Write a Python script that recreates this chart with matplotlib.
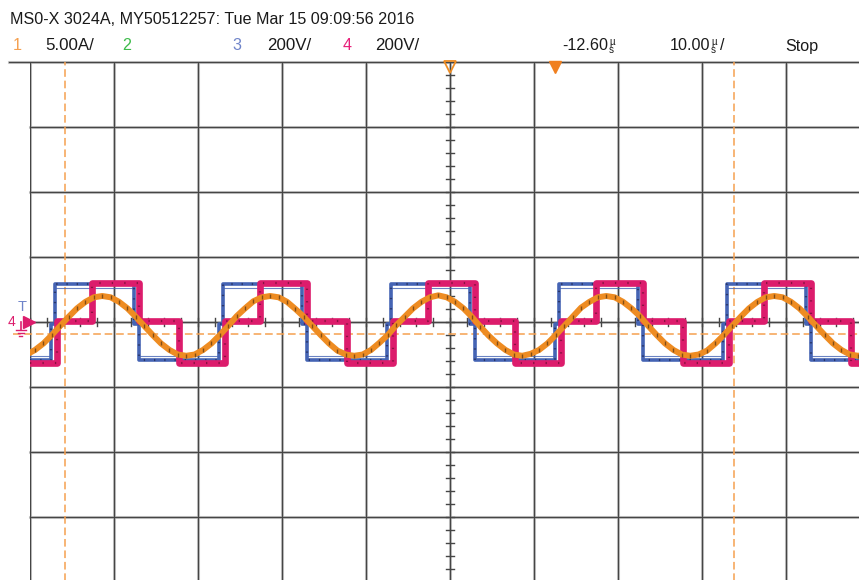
import matplotlib
matplotlib.use("Agg")
import matplotlib.pyplot as plt
import numpy as np

# scope settings
t_left = -62.6          # us at left graticule edge (delay -12.60us, 10us/div)
us_per_div = 10.0
amp_per_div = 5.0
volt_per_div = 200.0

# ch1 current samples (A), one every 1 us from -63 us
i_t = np.arange(-63, 39)
i_val = [-2.5, -2.15, -1.65, -1.0,
         -0.3, 0.4, 1.05, 1.55, 1.9, 2.0, 1.9, 1.55, 1.05, 0.4, -0.3, -1.0, -1.65, -2.15, -2.5, -2.6, -2.5, -2.15, -1.65, -1.0,
         -0.3, 0.45, 1.05, 1.6, 1.9, 2.0, 1.9, 1.55, 1.0, 0.4, -0.3, -1.0, -1.65, -2.2, -2.5, -2.6, -2.5, -2.15, -1.6, -1.0,
         -0.25, 0.4, 1.05, 1.55, 1.9, 2.05, 1.9, 1.55, 1.05, 0.4, -0.35, -1.05, -1.65, -2.15, -2.5, -2.6, -2.45, -2.15, -1.65, -1.0,
         -0.3, 0.4, 1.1, 1.55, 1.9, 2.0, 1.9, 1.55, 1.05, 0.45, -0.3, -1.0, -1.65, -2.15, -2.5, -2.6, -2.5, -2.2, -1.65, -1.0,
         -0.3, 0.4, 1.05, 1.55, 1.9, 2.0, 1.9, 1.55, 1.05, 0.4, -0.3, -1.0, -1.65, -2.15, -2.5, -2.6, -2.5, -2.15]

# ch3 voltage steps (us, V)
v3_t = [-62.6, -60.1, -59.6, -50.2, -49.6, -40.1, -39.6, -30.2, -29.6, -20.1, -19.6,
        -10.2, -9.6, -0.1, 0.4, 9.8, 10.4, 19.9, 20.4, 29.8, 30.4, 37.4]
v3_val = [-118, -6, 118, -6, -118, -6, 118, -6, -118, -6, 118,
          -6, -118, -6, 118, -6, -118, -6, 118, -6, -118, -118]

# ch4 voltage steps (us, V)
v4_t = [-62.6, -59.4, -55.2, -49.6, -44.9, -39.4, -35.2, -29.6, -24.9, -19.4, -15.2,
        -9.6, -4.9, 0.6, 4.8, 10.4, 15.1, 20.6, 24.8, 30.4, 35.1, 37.4]
v4_val = [-126, 4, 120, 4, -126, 4, 120, 4, -126, 4, 120,
          4, -126, 4, 120, 4, -126, 4, 120, 4, -126, -126]

# cursors
cursor_t = [-58.4, 21.2]
cursor_i = -0.92

orange = "#EE8C22"
cur_col = "#F5A050"
blue = "#4564B4"
pink = "#DC1C6C"

W, H = 859, 580
fig = plt.figure(figsize=(W / 100, H / 100), dpi=100)
fig.patch.set_facecolor("white")
# graticule: x 30..870 px, y 62..582 px (runs past the image edge)
ax = fig.add_axes([30 / W, -2 / H, 840 / W, 520 / H])
ax.set_xlim(t_left, t_left + 10 * us_per_div)
ax.set_ylim(-4, 4)
ax.axis("off")

grid_x = t_left + us_per_div * np.arange(0, 11)
grid_y = np.arange(-4, 5)
for gx in grid_x:
    ax.plot([gx, gx], [-4, 4], color="#d4d4d4", lw=2.2, zorder=1)
    ax.plot([gx, gx], [-4, 4], color="#454545", lw=1.0, zorder=1.1)
for gy in grid_y:
    x0 = t_left - 0.25 * us_per_div if gy == 4 else t_left
    ax.plot([x0, t_left + 10 * us_per_div], [gy, gy], color="#d4d4d4", lw=2.2, zorder=1, clip_on=False)
    ax.plot([x0, t_left + 10 * us_per_div], [gy, gy], color="#454545", lw=1.0, zorder=1.1, clip_on=False)

# minor ticks on the centre axes
t_mid = t_left + 5 * us_per_div
for k in np.arange(-4, 4.01, 0.2):
    ax.plot([t_mid - 0.42, t_mid + 0.42], [k, k], color="#454545", lw=1.0, zorder=1.1)
for k in np.arange(0, 10.01, 0.2):
    tx = t_left + k * us_per_div
    ax.plot([tx, tx], [-0.055, 0.055], color="#454545", lw=1.0, zorder=1.1)

# cursors
for ct in cursor_t:
    ax.plot([ct, ct], [-4, 4], color=cur_col, lw=1.1, ls=(0, (5, 2.5)), zorder=2)
ax.plot([t_left - 0.2 * us_per_div, t_left + 10 * us_per_div], [cursor_i / amp_per_div] * 2,
        color=cur_col, lw=1.1, ls=(0, (5, 2.5)), zorder=2, clip_on=False)

# traces
v3 = np.array(v3_val) / volt_per_div
v4 = np.array(v4_val) / volt_per_div
ax.step(v3_t, v3, where="post", color=blue, lw=2.6, zorder=3)
ax.step(v3_t, v3 * 0.88, where="post", color=blue, lw=0.8, alpha=0.8, zorder=3)
ax.step(v3_t, v3, where="post", color="#1a1a3a", lw=1.6, ls=(0, (0.6, 4)), alpha=0.6, zorder=3.1)
ax.step(v4_t, v4, where="post", color=pink, lw=4.8, zorder=4)
ax.step(v4_t, v4, where="post", color="#3a0a1a", lw=1.6, ls=(0, (0.6, 5)), alpha=0.5, zorder=4.1)
i_div = np.array(i_val) / amp_per_div
ax.plot(i_t, i_div, color=orange, lw=4.3, solid_joinstyle="round", zorder=5)
ax.plot(i_t, i_div, color="#2a1a0a", lw=0, marker="|", ms=3.5, mew=1.0, alpha=0.55, zorder=5.1)

# markers at top of graticule
ax.plot([t_mid], [3.93], marker="v", ms=8, mfc="none", mec=orange, mew=1.3, clip_on=False, zorder=6)
ax.plot([-0.1], [3.93], marker="v", ms=9, color="#F08020", clip_on=False, zorder=6)

# left channel marker (ch4 ground + trigger level)
ax.plot([t_left - 0.1], [0], marker=">", ms=8, color=pink, clip_on=False, zorder=6)
gx0 = t_left - 1.1
ax.plot([gx0, gx0], [0, -0.12], color=pink, lw=1.2, clip_on=False)
for j, w in enumerate([0.6, 0.38, 0.16]):
    ax.plot([gx0 - w, gx0 + w], [-0.12 - 0.045 * j] * 2, color=pink, lw=1.0, clip_on=False)
fig.text(12 / W, 1 - 322 / H, "4", color=pink, fontsize=10, family="Liberation Sans",
         ha="center", va="center")
fig.text(22.5 / W, 1 - 307 / H, "T", color="#6F84C9", fontsize=10.5, family="Liberation Sans",
         ha="center", va="center")

# header
fam = "Liberation Sans"
fs = 11.6
fig.text(10 / W, 1 - 20 / H, "MS0-X 3024A, MY50512257: Tue Mar 15 09:09:56 2016",
         fontsize=fs, family=fam, color="#1a1a1a", va="center")
row = 1 - 46 / H
fig.text(17 / W, row, "1", fontsize=fs, family=fam, color="#F5A050", va="center", ha="center")
fig.text(45 / W, row, "5.00A/", fontsize=fs + 0.6, family=fam, color="#1a1a1a", va="center")
fig.text(127 / W, row, "2", fontsize=fs, family=fam, color="#3DBB4A", va="center", ha="center")
fig.text(237 / W, row, "3", fontsize=fs, family=fam, color="#6F84C9", va="center", ha="center")
fig.text(267 / W, row, "200V/", fontsize=fs + 0.6, family=fam, color="#1a1a1a", va="center")
fig.text(347 / W, row, "4", fontsize=fs, family=fam, color="#E8207A", va="center", ha="center")
fig.text(375 / W, row, "200V/", fontsize=fs + 0.6, family=fam, color="#1a1a1a", va="center")
fig.text(608 / W, row, "-12.60", fontsize=fs, family=fam, color="#1a1a1a", va="center", ha="right")
fig.text(609 / W, 1 - 46 / H, "\u00b5\ns", fontsize=7, family=fam, color="#1a1a1a",
         va="center", linespacing=0.8)
fig.text(710 / W, row, "10.00", fontsize=fs, family=fam, color="#1a1a1a", va="center", ha="right")
fig.text(711 / W, 1 - 46 / H, "\u00b5\ns", fontsize=7, family=fam, color="#1a1a1a",
         va="center", linespacing=0.8)
fig.text(720 / W, row, "/", fontsize=fs, family=fam, color="#1a1a1a", va="center")
fig.text(785 / W, row, "Stop", fontsize=fs, family=fam, color="#1a1a1a", va="center")

fig.savefig("out.png", dpi=100)
